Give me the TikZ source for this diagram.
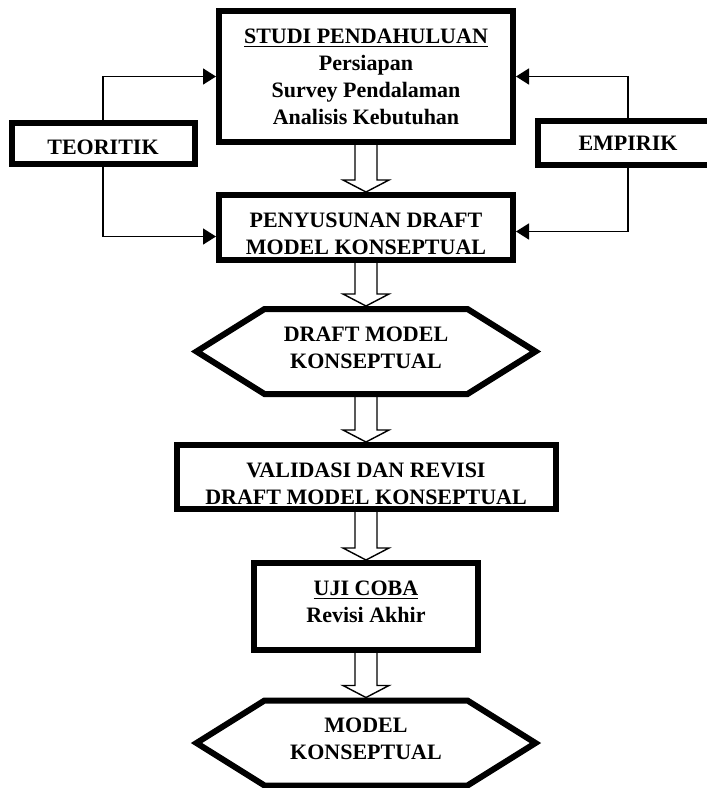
\documentclass[tikz,border=0pt]{standalone}
\usepackage{fontspec}
\setmainfont{Liberation Serif}
\usepackage{tikz}
\usetikzlibrary{shapes,shapes.symbols,arrows.meta,positioning,calc}

\newcommand{\panahturun}[2]{%
  \draw[panahbesar] ($(#1.south)+(-11,0)$) -- ($(#2.north)+(-11,-12)$) -- ($(#2.north)+(-23,-12)$)
    -- (#2.north) -- ($(#2.north)+(23,-12)$) -- ($(#2.north)+(11,-12)$) -- ($(#1.south)+(11,0)$);}

\begin{document}
\begin{tikzpicture}[x=0.5pt, y=-0.5pt,
      proses/.style={draw, rectangle, line width=3pt, align=center, inner sep=0pt,
        font=\fontsize{11}{13.5}\selectfont\bfseries},
      hasil/.style={proses, signal, signal to=west and east, signal pointer angle=64},
      link/.style={line width=0.8pt, -{Triangle[length=6.5pt, width=8pt]}},
      panahbesar/.style={line width=0.7pt}
    ]
    \useasboundingbox (0,0) rectangle (707,788);

    \node[proses, minimum width=147pt, minimum height=65.5pt] (studi) at (366,76.5)
      {\underline{STUDI PENDAHULUAN}\\Persiapan\\Survey Pendalaman\\Analisis Kebutuhan};
    \node[proses, minimum width=91.5pt, minimum height=20.5pt] (teori) at (103,143.5)
      {\rule{0pt}{11.5pt}TEORITIK};
    \node[proses, minimum width=90pt, minimum height=22pt] (empiri) at (628,143) {EMPIRIK};
    \node[proses, minimum width=147pt, minimum height=32.5pt] (draft) at (366,227.5)
      {\rule{0pt}{13.8pt}PENYUSUNAN DRAFT\\MODEL KONSEPTUAL};
    \node[hasil, minimum width=169.5pt, minimum height=42.5pt] (dmodel) at (366,351.5)
      {DRAFT MODEL\\KONSEPTUAL\rule[-3.5pt]{0pt}{0pt}};
    \node[proses, minimum width=189.5pt, minimum height=32pt] (valid) at (366,477)
      {\rule{0pt}{14.3pt}VALIDASI DAN REVISI\\DRAFT MODEL KONSEPTUAL};
    \node[proses, minimum width=112pt, minimum height=43.5pt] (uji) at (366,606.5)
      {\underline{UJI COBA}\\Revisi Akhir\rule[-4.5pt]{0pt}{0pt}};
    \node[hasil, minimum width=169.5pt, minimum height=42.5pt] (model) at (366,743)
      {MODEL\\KONSEPTUAL\rule[-4.5pt]{0pt}{0pt}};

    \draw[link] (teori.north) |- (studi.west);
    \draw[link] (teori.south) |- ($(draft.west)+(0,9)$);
    \draw[link] (empiri.north) |- (studi.east);
    \draw[link] (empiri.south) |- ($(draft.east)+(0,4)$);

    \panahturun{studi}{draft}
    \panahturun{draft}{dmodel}
    \panahturun{dmodel}{valid}
    \panahturun{valid}{uji}
    \panahturun{uji}{model}
  \end{tikzpicture}
\end{document}
